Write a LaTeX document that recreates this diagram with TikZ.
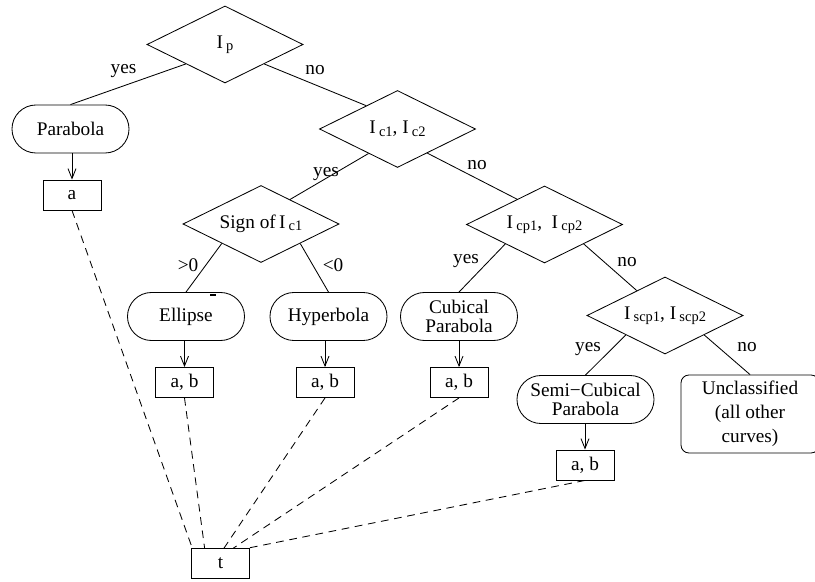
\documentclass[tikz,border=0pt]{standalone}
\usepackage{fontspec}
\setmainfont{Liberation Serif}
\usetikzlibrary{shapes.geometric,arrows.meta,calc}
\newcommand{\Isub}[1]{I\,\raisebox{-1.6pt}{\fontsize{10.3}{10.3}\selectfont #1}}
\tikzset{
  test/.style={diamond,aspect=2,draw,line width=0.6pt,inner sep=0pt,
    minimum width=3.9cm,minimum height=1.925cm,
    font=\fontsize{13.7}{13.7}\selectfont},
  curve/.style={rectangle,draw,rounded corners=0.6cm,line width=0.6pt,
    minimum width=2.925cm,minimum height=1.2cm,inner sep=0pt,align=center,
    font=\fontsize{13.7}{13.7}\selectfont},
  other/.style={rectangle,draw,rounded corners=0.2cm,line width=0.6pt,
    minimum width=3.45cm,minimum height=1.95cm,inner sep=0pt,align=center,
    font=\fontsize{13.7}{17}\selectfont},
  param/.style={rectangle,draw,line width=0.6pt,minimum width=1.45cm,
    minimum height=0.75cm,inner sep=0pt,font=\fontsize{13.7}{13.7}\selectfont},
  answer/.style={inner sep=0pt,font=\fontsize{13.7}{13.7}\selectfont},
  branch/.style={draw,line width=0.6pt},
  feed/.style={draw,line width=0.6pt,-{Straight Barb[length=7pt,width=5.7pt]}},
  link/.style={draw,line width=0.6pt,dash pattern=on 5.5pt off 4pt}
}
\begin{document}
\begin{tikzpicture}[x=0.025cm,y=-0.025cm]
  \clip (0,0) rectangle (815,582);
  \node[test] (ip) at (225,44.5) {\Isub{p}};
  \node[test] (ic) at (397.5,129) {\Isub{c1},~\Isub{c2}};
  \node[test] (sgn) at (261,224) {Sign of\,\Isub{c1}};
  \node[test] (icp) at (544.5,224.5) {\Isub{cp1},\enspace\Isub{cp2}};
  \node[test] (iscp) at (665,315.5) {\Isub{scp1},~\Isub{scp2}};
  \node[curve] (parab) at (70.5,129) {Parabola};
  \node[curve] (ellip) at (186,316.5) {Ellipse};
  \node[curve] (hyper) at (328.5,316.5) {Hyperbola};
  \node[curve] (cubic) at (459,316.5) {Cubical\\Parabola};
  \node[curve,minimum width=3.425cm] (semic) at (585.5,399.5) {Semi−Cubical\\Parabola};
  \node[other] (uncl) at (750,414) {Unclassified\\(all other\\curves)};
  \node[param] (pa) at (72,195) {a};
  \node[param] (pe) at (184.5,382.5) {a, b};
  \node[param] (ph) at (325,382.5) {a, b};
  \node[param] (pc) at (459,382.5) {a, b};
  \node[param] (ps) at (585,465) {a, b};
  \node[param] (t) at (220.5,563.5) {t};
  \node[answer] (y1) at (123.5,71) {yes};
  \node[answer] (n1) at (315,70) {no};
  \node[answer] (y2) at (326,174) {yes};
  \node[answer] (n2) at (477,165) {no};
  \node[answer] (g1) at (188,265) {>0};
  \node[answer] (g2) at (333,265) {<0};
  \node[answer] (y3) at (466,261) {yes};
  \node[answer] (n3) at (627,262) {no};
  \node[answer] (y4) at (588,349) {yes};
  \node[answer] (n4) at (747,347) {no};
  \draw[branch] (ip.south west) -- (parab.north);
  \draw[branch] (ip.south east) -- ($(ic.west)!0.6!(ic.north)$);
  \draw[branch] ($(ic.west)!0.63!(ic.south)$) -- ($(sgn.north)!0.37!(sgn.east)$);
  \draw[branch] ($(ic.south)!0.38!(ic.east)$) -- ($(icp.west)!0.65!(icp.north)$);
  \draw[branch] (sgn.south west) -- (ellip.north);
  \draw[branch] (sgn.south east) -- (hyper.north);
  \draw[branch] (icp.south west) -- (cubic.north);
  \draw[branch] (icp.south east) -- ($(iscp.west)!0.64!(iscp.north)$);
  \draw[branch] (iscp.south west) -- (semic.north);
  \draw[branch] (iscp.south east) -- (uncl.north);
  \foreach \c/\p in {parab/pa,ellip/pe,hyper/ph,cubic/pc,semic/ps}
    \draw[feed] (\c.south -| \p.north) -- (\p.north);
  \foreach \p/\f in {pa/0.02,pe/0.23,ph/0.56,pc/0.72,ps/0.97}
    \draw[link] (\p.south) -- ($(t.north west)!\f!(t.north east)$);
  \fill (210,294) rectangle (216,296.5);
\end{tikzpicture}
\end{document}
